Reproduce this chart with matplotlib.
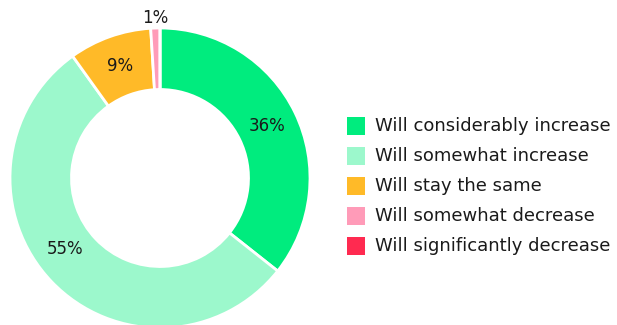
import matplotlib
matplotlib.use("Agg")
import numpy as np
import matplotlib.pyplot as plt
from matplotlib.patches import Rectangle

plt.rcParams['font.family'] = ['DejaVu Sans']

categories = ["Will considerably increase", "Will somewhat increase",
              "Will stay the same", "Will somewhat decrease",
              "Will significantly decrease"]
shares = [36, 55, 9, 1, 0]
colors = ["#00EC7E", "#9CF8CC", "#FFBA28", "#FF9BB8", "#FF2A50"]

W, H = 617, 325
fig = plt.figure(figsize=(W / 100, H / 100), dpi=100)

# donut: centre at (160, 178) px, outer radius 150 px
cx, cy, r = 160, 178, 150
ax = fig.add_axes([(cx - r) / W, (H - cy - r) / H, 2 * r / W, 2 * r / H])
wedges, _ = ax.pie(shares, colors=colors, startangle=90, counterclock=False,
                   radius=1.0,
                   wedgeprops=dict(width=0.41, edgecolor="white", linewidth=2))
ax.set_xlim(-1, 1)
ax.set_ylim(-1, 1)
ax.set_aspect("equal")
ax.axis("off")

# value labels: inside the ring, small slices just outside it
nudge = {55: -7}  # degrees, pulls the big label a bit further round
for v, w in zip(shares, wedges):
    if v == 0:
        continue
    mid = np.deg2rad((w.theta1 + w.theta2) / 2 + nudge.get(v, 0))
    rr = 0.79 if v >= 5 else 1.07
    ax.text(rr * np.cos(mid), rr * np.sin(mid), f"{v}%", ha="center", va="center",
            fontsize=12, color="#1a1a1a", clip_on=False)

# legend drawn in pixel coordinates
lg = fig.add_axes([0, 0, 1, 1])
lg.set_xlim(0, W)
lg.set_ylim(H, 0)
lg.axis("off")
for i, (name, c) in enumerate(zip(categories, colors)):
    y = 126 + 30 * i
    lg.add_patch(Rectangle((347, y - 9), 18, 18, facecolor=c, edgecolor="none"))
    lg.text(375, y, name, ha="left", va="center", fontsize=13, color="#1a1a1a")

fig.savefig("out.png", dpi=100)
